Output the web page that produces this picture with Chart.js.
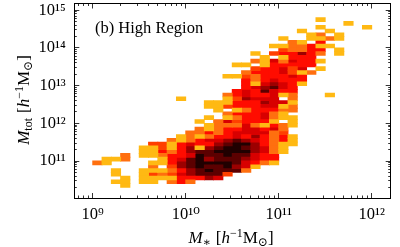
<!DOCTYPE html>
<html>
<head>
<meta charset="utf-8">
<style>
  html, body { margin: 0; padding: 0; background: #fff; }
  canvas { display: block; }
</style>
<script src="https://cdn.jsdelivr.net/npm/chart.js@4/dist/chart.umd.min.js"></script>
</head>
<body>
<canvas id="chart" width="400" height="247"></canvas>
<script>
// Left edge (log10) of each stellar mass bin
const massBinLog = [
    9.0, 9.1, 9.2, 9.3, 9.4, 9.5, 9.6, 9.7, 9.8, 9.9,
    10.0, 10.1, 10.2, 10.3, 10.4, 10.5, 10.6, 10.7, 10.8, 10.9,
    11.0, 11.1, 11.2, 11.3, 11.4, 11.5, 11.6, 11.7, 11.8, 11.9
];

// Lower edge (log10) of each halo mass bin, one per row of cellLevels
const haloBinLog = [
    14.7, 14.6, 14.5, 14.4, 14.3, 14.2, 14.1, 14.0, 13.9, 13.8,
    13.7, 13.6, 13.5, 13.4, 13.3, 13.2, 13.1, 13.0, 12.9, 12.8,
    12.7, 12.6, 12.5, 12.4, 12.3, 12.2, 12.1, 12.0, 11.9, 11.8,
    11.7, 11.6, 11.5, 11.4, 11.3, 11.2, 11.1, 11.0, 10.9, 10.8,
    10.7, 10.6, 10.5, 10.4, 10.3
];

// Density level per cell (0 = empty, 8 = densest), blocks of ten columns
const cellLevels = [
    '0000000000 0000000000 0000100000',
    '0000000000 0000000000 0000000100',
    '0000000000 0000000000 0000100001',
    '0000000000 0000000000 0010010000',
    '0000000000 0000000000 0001201000',
    '0000000000 0000000000 1001121000',
    '0000000000 0000000000 0210400000',
    '0000000000 0000000001 1224110000',
    '0000000000 0000000000 3224401000',
    '0000000000 0000000103 4464201000',
    '0000000000 0000000010 1444000000',
    '0000000000 0000000215 2544100000',
    '0000000000 0000011014 4444000000',
    '0000000000 0000000344 5350100000',
    '0000000000 0000002444 5312000000',
    '0000000000 0000113244 4540000000',
    '0000000000 0000004245 4440000000',
    '0000000000 0000004156 5410000000',
    '0000000000 0000004567 5400000000',
    '0000000000 0000045475 4400000000',
    '0000000000 0000245445 1200010000',
    '0000000001 0000136555 0200000000',
    '0000000000 0011144465 5100000000',
    '0000000000 0011344455 1200000000',
    '0000000000 0001012444 2200000000',
    '0000000000 0000244452 1000000000',
    '0000000000 0010124452 1100000000',
    '0000000000 0102534441 0100000000',
    '0000000000 0012225214 2100000000',
    '0000000000 0212445545 2000000000',
    '0000000000 2242455552 3000000000',
    '0000000001 2124454642 4100000000',
    '0000000021 2455676542 4100000000',
    '0000003314 5446788642 1100000000',
    '0000011314 6167887652 1000000000',
    '0000011424 6778888652 1000000000',
    '0002011244 5877877544 0000000000',
    '0112000145 7867776544 0000000000',
    '2100001146 7888875421 0000000000',
    '0000002036 7877865100 0000000000',
    '0010011124 6787772000 0000000000',
    '0010013235 6777300000 0000000000',
    '0001011114 4465000000 0000000000',
    '0011011024 2000000000 0000000000',
    '0001000000 0000000000 0000000000'
];

const levelColors = ['#ffb913', '#ff6f0f', '#ff3f00', '#ff0c00', '#d80000', '#9c0000', '#5c0000', '#200000'];

const xMajorTicks = [1e9, 1e10, 1e11, 1e12];
const xMinorTicks = [
    7e8, 8e8, 9e8,
    2e9, 3e9, 4e9, 5e9, 6e9, 7e9, 8e9, 9e9,
    2e10, 3e10, 4e10, 5e10, 6e10, 7e10, 8e10, 9e10,
    2e11, 3e11, 4e11, 5e11, 6e11, 7e11, 8e11, 9e11,
    2e12, 3e12, 4e12, 5e12, 6e12, 7e12, 8e12, 9e12
].filter(v => v < 10 ** 12.204);
const yMajorTicks = [1e11, 1e12, 1e13, 1e14, 1e15];
const yMinorTicks = [
    2e10, 3e10, 4e10, 5e10, 6e10, 7e10, 8e10, 9e10,
    2e11, 3e11, 4e11, 5e11, 6e11, 7e11, 8e11, 9e11,
    2e12, 3e12, 4e12, 5e12, 6e12, 7e12, 8e12, 9e12,
    2e13, 3e13, 4e13, 5e13, 6e13, 7e13, 8e13, 9e13,
    2e14, 3e14, 4e14, 5e14, 6e14, 7e14, 8e14, 9e14
];
const xTickLabels = ['10⁹', '10¹⁰', '10¹¹', '10¹²'];
const yTickLabels = ['10¹¹', '10¹²', '10¹³', '10¹⁴', '10¹⁵'];

const X_MIN = 10 ** 8.802, X_MAX = 10 ** 12.204;
const Y_MIN = 10 ** 10.019, Y_MAX = 10 ** 15.178;
const SERIF = '"Liberation Serif", "DejaVu Serif", serif';

/** Build one dataset per colour level, every cell is a floating bar */
function buildDatasets() {
    return levelColors.map((color, iLevel) => {
        const data = [];
        cellLevels.forEach((strRow, iRow) => {
            const row = strRow.replace(/ /g, '');
            massBinLog.forEach((logMass, iCol) => {
                if (Number(row[iCol]) !== iLevel + 1) return;
                // Tiny overlap so no pale seams show between neighbouring cells
                data.push({
                    x: 10 ** (logMass + 0.05),
                    y: [10 ** (haloBinLog[iRow] - 0.002), 10 ** (haloBinLog[iRow] + 0.102)]
                });
            });
        });
        return { data, backgroundColor: color, borderWidth: 0, barThickness: 9.5, grouped: false };
    });
}

/** A log axis drawing inward ticks at fixed values only */
function axis(strPos, min, max, arrTicks, nLength, arrLabels, nSize, nPadding) {
    return {
        type: 'logarithmic',
        position: strPos,
        weight: arrLabels ? 1 : 0, // The labelled axes sit outside the bare tick axes
        min, max,
        bounds: 'data',
        offset: false,
        afterBuildTicks: s => { s.ticks = arrTicks.map(value => ({ value })); },
        afterFit: s => {
            if (s.isHorizontal()) s.height = nSize || 0;
            else s.width = nSize || 0;
            // The labels must not push the plot area inwards
            s.paddingTop = s.paddingBottom = s.paddingLeft = s.paddingRight = 0;
        },
        border: { display: true, color: '#000', width: 1 },
        grid: { offset: false, drawOnChartArea: false, drawTicks: true, tickLength: -nLength, tickColor: '#000', tickWidth: 0.8 },
        ticks: arrLabels ? {
            display: true,
            autoSkip: false,
            maxRotation: 0,
            color: '#000',
            padding: nPadding,
            font: { family: SERIF, size: 16.5 },
            callback: (v, i) => arrLabels[i]
        } : { display: false }
    };
}

/** Write mixed-font text (italic, sub and superscripts) as consecutive runs */
function drawRuns(ctx, arrRuns, x, y, nAngle, bCentre) {
    ctx.save();
    ctx.translate(x, y);
    ctx.rotate(nAngle);
    ctx.fillStyle = '#000';
    ctx.textBaseline = 'alphabetic';
    ctx.textAlign = 'left';
    let nWidth = 0;
    for (const run of arrRuns) {
        ctx.font = run.font;
        nWidth += ctx.measureText(run.text).width + (run.gap || 0);
    }
    let cx = bCentre ? -nWidth / 2 : 0;
    for (const run of arrRuns) {
        ctx.font = run.font;
        ctx.fillText(run.text, cx, run.dy || 0);
        cx += ctx.measureText(run.text).width + (run.gap || 0);
    }
    ctx.restore();
}

const textPlugin = {
    id: 'richText',
    afterDraw(chart) {
        const ctx = chart.ctx;
        const big = `17px ${SERIF}`;
        const ital = `italic 17px ${SERIF}`;
        const small = `12px ${SERIF}`;
        drawRuns(ctx, [{ text: '(b) High Region', font: `16.5px ${SERIF}` }], 95, 33, 0, false);
        drawRuns(ctx, [
            { text: 'M', font: ital },
            { text: '∗', font: small, dy: 3, gap: 5 },
            { text: '[', font: big },
            { text: 'h', font: ital },
            { text: '−1', font: small, dy: -6.5 },
            { text: 'M', font: big },
            { text: '⊙', font: small, dy: 3 },
            { text: ']', font: big }
        ], 231, 243, 0, true);
        drawRuns(ctx, [
            { text: 'M', font: ital },
            { text: 'tot', font: small, dy: 3, gap: 5 },
            { text: '[', font: big },
            { text: 'h', font: ital },
            { text: '−1', font: small, dy: -6.5 },
            { text: 'M', font: big },
            { text: '⊙', font: small, dy: 3 },
            { text: ']', font: big }
        ], 29, 100, -Math.PI / 2, true);
    }
};

new Chart(document.getElementById('chart'), {
    type: 'bar',
    data: { datasets: buildDatasets() },
    plugins: [textPlugin],
    options: {
        responsive: false,
        animation: false,
        layout: { padding: { left: 0, top: 3.5, right: 9.3, bottom: 0 } },
        plugins: { legend: { display: false }, tooltip: { enabled: false } },
        scales: {
            x: axis('bottom', X_MIN, X_MAX, xMajorTicks, 5, xTickLabels, 49, 12),
            xBottomMinor: axis('bottom', X_MIN, X_MAX, xMinorTicks, 2.5),
            xTop: axis('top', X_MIN, X_MAX, xMajorTicks, 5),
            xTopMinor: axis('top', X_MIN, X_MAX, xMinorTicks, 2.5),
            y: axis('left', Y_MIN, Y_MAX, yMajorTicks, 5, yTickLabels, 74.3, 13.5),
            yLeftMinor: axis('left', Y_MIN, Y_MAX, yMinorTicks, 2.5),
            yRight: axis('right', Y_MIN, Y_MAX, yMajorTicks, 5),
            yRightMinor: axis('right', Y_MIN, Y_MAX, yMinorTicks, 2.5)
        }
    }
});
</script>
</body>
</html>
